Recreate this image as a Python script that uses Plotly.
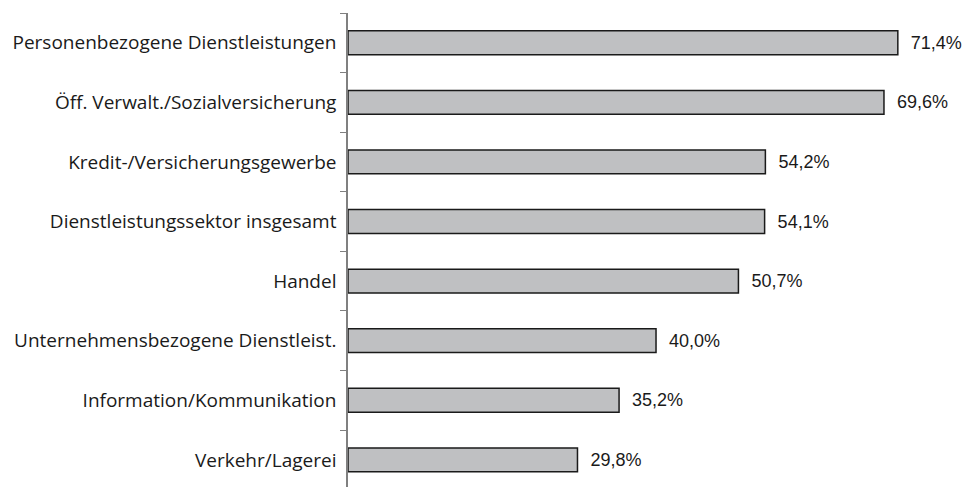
import plotly.graph_objects as go

categories = [
    "Personenbezogene Dienstleistungen",
    "Öff. Verwalt./Sozialversicherung",
    "Kredit-/Versicherungsgewerbe",
    "Dienstleistungssektor insgesamt",
    "Handel",
    "Unternehmensbezogene Dienstleist.",
    "Information/Kommunikation",
    "Verkehr/Lagerei",
]
values = [71.4, 69.6, 54.2, 54.1, 50.7, 40.0, 35.2, 29.8]
labels = ["  " + f"{v:.1f}".replace(".", ",") + "%" for v in values]

fig = go.Figure(go.Bar(
    y=categories, x=values, orientation="h",
    width=0.4,
    marker=dict(color="#bfc0c2", line=dict(color="#1a1a1a", width=1.5)),
    text=labels, textposition="outside", cliponaxis=False,
    textfont=dict(family="Liberation Sans, Arial", size=18, color="#1a1a1a"),
))

# page body has an 8px margin, so offsets are compensated here
fig.update_layout(
    width=973, height=487,
    margin=dict(l=340, r=0, t=5, b=0),
    plot_bgcolor="white", paper_bgcolor="white",
    showlegend=False,
    uniformtext=dict(minsize=18, mode="show"),
)
fig.update_xaxes(range=[0, 82.2], visible=False, automargin=False)
fig.update_yaxes(
    categoryorder="array", categoryarray=categories[::-1],
    range=[-0.59, 7.5], automargin=False,
    showline=True, linecolor="#808080", linewidth=1.5,
    ticks="outside", tickson="boundaries", ticklen=6, tickcolor="#808080",
    tickfont=dict(family="Open Sans", size=19, color="#1a1a1a"),
    ticklabelstandoff=6,
    showgrid=False, zeroline=False,
)

fig.write_html("out.html")
